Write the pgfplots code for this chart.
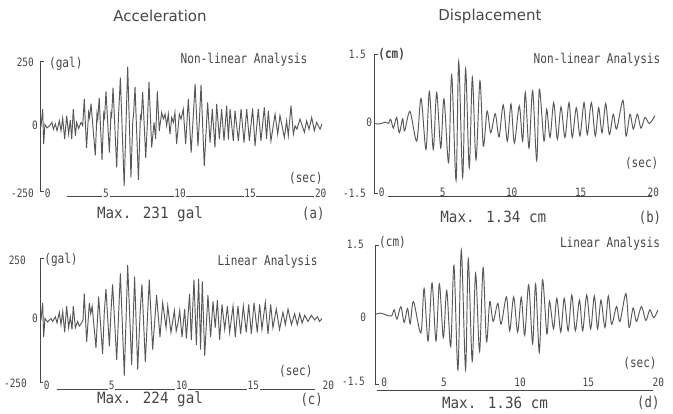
\documentclass[border=0pt]{standalone}
\usepackage{pgfplots}
\pgfplotsset{compat=1.18}
\usepackage{fontspec}
\setmainfont{DejaVu Sans}
\newfontfamily\plotfont[FakeStretch=0.82]{DejaVu Sans Mono}
\newfontfamily\maxfont[FakeStretch=0.92]{DejaVu Sans Mono}
\definecolor{ink}{RGB}{70,70,70}
\definecolor{trace}{RGB}{88,88,88}
\newcommand\tickf{\fontsize{11.5}{12}\plotfont}
\newcommand\labf{\fontsize{13.5}{14}\plotfont}
\newcommand\maxf{\fontsize{15.5}{16}\maxfont}
\newcommand\letf{\fontsize{15}{16}\plotfont}
\newcommand\titf{\fontsize{15}{16}\selectfont}
\pgfplotsset{panel/.style={scale only axis, anchor=south west, xmin=0, xmax=20,
  axis y line*=left, axis x line=none, xtick=\empty, yticklabels={},
  tick align=inside, major tick length=4pt,
  y axis line style={draw=ink, line width=0.7pt},
  ytick style={draw=ink, line width=0.7pt}, clip=false}}

\pgfplotstableread{
t v
0.00 0
0.07 0
0.19 67
0.26 -67
0.35 8
0.50 -5
0.66 2
0.85 16
0.95 -10
1.09 10
1.21 -16
1.37 22
1.49 -16
1.61 32
1.75 -48
1.89 42
2.03 -29
2.15 25
2.25 -48
2.36 67
2.51 -35
2.60 16
2.74 -7
2.91 16
3.03 3
3.14 106
3.30 -82
3.45 55
3.52 35
3.62 88
3.92 -110
4.04 50
4.10 30
4.20 110
4.40 -128
4.52 50
4.58 35
4.68 135
4.92 -100
5.03 50
5.08 40
5.18 150
5.44 -157
5.56 30
5.70 188
5.97 -228
6.22 230
6.45 -195
6.58 20
6.64 50
6.74 152
6.98 -205
7.12 40
7.18 30
7.28 133
7.50 -120
7.62 20
7.73 172
7.92 -80
8.09 16
8.20 -48
8.32 135
8.46 -16
8.63 54
8.75 29
8.87 48
8.98 3
9.10 48
9.22 -29
9.34 35
9.46 16
9.57 54
9.69 -67
9.88 48
10.00 29
10.16 67
10.33 -67
10.52 106
10.72 -100
10.86 30
11.00 164
11.20 -74
11.30 20
11.42 160
11.65 -151
11.89 93
12.06 -61
12.22 67
12.41 -80
12.53 87
12.72 -48
12.88 67
13.05 -54
13.24 80
13.36 -50
13.48 67
13.71 -55
13.83 61
14.07 -55
14.26 67
14.47 -61
14.66 67
14.85 -55
15.08 70
15.25 -74
15.48 67
15.67 -55
15.91 74
16.07 -48
16.19 61
16.38 -55
16.67 48
16.86 -29
17.02 42
17.33 -42
17.49 22
17.61 -35
17.80 80
17.97 -29
18.09 3
18.22 -10
18.44 29
18.75 -22
18.91 22
19.08 -10
19.27 35
19.46 -16
19.62 16
19.86 -10
20.00 10
}\accNL

\pgfplotstableread{
t v
0.00 0
0.07 0
0.19 69
0.26 -69
0.35 6
0.54 -8
0.78 6
0.90 -6
1.09 13
1.21 -12
1.37 31
1.49 -19
1.61 34
1.75 -50
1.89 56
2.03 -31
2.15 13
2.27 -38
2.36 56
2.51 -31
2.67 -6
2.79 -25
2.95 -12
3.05 0
3.14 106
3.31 -88
3.50 69
3.60 25
3.70 55
3.97 -112
4.16 94
4.44 -137
4.56 30
4.68 125
4.92 -106
5.04 40
5.15 144
5.44 -162
5.58 30
5.70 188
5.98 -224
6.22 221
6.50 -181
6.71 175
6.93 -200
7.10 30
7.23 144
7.47 -169
7.75 163
7.99 -119
8.27 100
8.51 -69
8.70 69
8.94 -31
9.06 56
9.29 -50
9.53 38
9.66 -45
9.79 -12
9.91 38
10.07 -69
10.26 44
10.38 -75
10.61 106
10.73 -81
10.92 163
11.09 -100
11.25 166
11.39 -119
11.51 156
11.68 -144
11.91 100
12.10 -69
12.27 75
12.43 -31
12.58 81
12.74 -81
12.91 63
13.10 -38
13.29 56
13.45 -50
13.69 56
13.85 -69
14.04 56
14.23 -56
14.42 56
14.63 -50
14.80 63
14.99 -56
15.18 69
15.41 -50
15.58 63
15.74 -38
15.98 71
16.17 -56
16.36 63
16.52 -31
16.76 44
16.99 -38
17.23 31
17.40 -19
17.59 44
17.83 -19
18.06 25
18.25 -19
18.42 25
18.59 -12
18.77 19
19.01 -6
19.24 19
19.48 0
19.67 13
19.83 -6
20.00 6
}\accL

\pgfplotstableread{
t v
0.00 0.00
0.40 -0.01
0.80 0.03
1.02 0.00
1.19 0.09
1.38 -0.10
1.61 0.13
1.80 -0.20
2.04 0.10
2.18 -0.16
2.56 0.26
3.04 -0.38
3.35 0.54
3.70 -0.56
3.94 0.69
4.22 -0.56
4.46 0.67
4.75 -0.53
4.98 0.53
5.31 -0.85
5.53 1.05
5.84 -1.23
6.03 1.34
6.31 -1.16
6.52 1.18
6.78 -0.96
7.00 1.00
7.26 -0.78
7.54 0.92
7.78 -0.49
8.05 0.27
8.31 -0.20
8.63 0.21
8.90 -0.29
9.20 0.40
9.49 -0.38
9.75 0.42
9.99 -0.42
10.34 0.38
10.58 -0.38
10.77 0.67
11.03 -0.53
11.29 0.71
11.58 -0.80
11.77 0.74
12.10 -0.38
12.29 0.31
12.53 -0.30
12.79 0.45
13.05 -0.34
13.31 0.36
13.59 -0.30
13.88 0.45
14.11 -0.30
14.40 0.34
14.66 -0.27
14.95 0.45
15.18 -0.24
15.47 0.45
15.75 -0.27
15.99 0.34
16.23 -0.20
16.49 0.43
16.75 -0.24
17.03 0.20
17.27 -0.12
17.72 0.50
17.94 -0.27
18.22 0.20
18.46 -0.12
18.74 0.20
19.00 -0.10
19.29 0.13
19.60 0.00
20.00 0.17
}\disNL

\pgfplotstableread{
t v
0.00 0.00
0.42 0.03
0.77 -0.01
1.17 -0.03
1.36 0.10
1.55 -0.10
1.83 0.17
2.06 -0.17
2.30 0.13
2.49 -0.20
2.72 0.28
3.24 -0.40
3.47 0.56
3.75 -0.57
4.03 0.68
4.31 -0.57
4.55 0.66
4.83 -0.50
5.07 0.52
5.35 -0.70
5.58 1.06
5.86 -1.19
6.10 1.39
6.40 -1.19
6.59 1.20
6.87 -1.01
7.11 0.89
7.39 -0.80
7.64 1.01
7.88 -0.59
8.11 0.28
8.35 -0.15
8.68 0.24
8.91 -0.21
9.29 0.38
9.52 -0.35
9.80 0.38
10.08 -0.38
10.34 0.37
10.58 -0.45
10.86 0.64
11.14 -0.63
11.35 0.66
11.61 -0.82
11.84 0.75
12.15 -0.42
12.33 0.29
12.62 -0.31
12.85 0.35
13.13 -0.38
13.37 0.35
13.65 -0.35
13.91 0.42
14.16 -0.35
14.45 0.31
14.68 -0.35
14.96 0.42
15.24 -0.31
15.50 0.40
15.73 -0.31
15.97 0.31
16.25 -0.28
16.49 0.40
16.72 -0.21
17.07 0.17
17.31 -0.15
17.73 0.45
17.96 -0.28
18.24 0.14
18.48 -0.15
18.83 0.17
19.14 -0.13
19.42 0.10
19.70 -0.07
20.00 0.10
}\disL

\begin{document}
\begin{tikzpicture}[x=1pt,y=1pt]
\useasboundingbox (0,0) rectangle (673,414);

% baselines under the time labels
\draw[ink, line width=0.6pt] (66.7,217.5) -- (316,217.5);
\draw[ink, line width=0.6pt] (388,217.3) -- (652,217.3);
\draw[ink, line width=0.6pt] (56.7,24.5) -- (315,24.5);
\draw[ink, line width=0.6pt] (376.7,24) -- (653.3,24);

% (a) acceleration, non-linear
\begin{axis}[panel, at={(40pt,222.3pt)}, width=282pt, height=130.2pt,
  ymin=-250, ymax=250, ytick={-250,250}]
\addplot[trace, line width=0.95pt] table[x=t,y=v] {\accNL};
\end{axis}
% (b) displacement, non-linear
\begin{axis}[panel, at={(374pt,221pt)}, width=281pt, height=139pt,
  ymin=-1.5, ymax=1.5, ytick={-1.5,1.5}]
\addplot[trace, line width=0.95pt, smooth, tension=0.5] table[x=t,y=v] {\disNL};
\end{axis}
% (c) acceleration, linear
\begin{axis}[panel, at={(40pt,32pt)}, width=282pt, height=124pt,
  ymin=-250, ymax=250, ytick={-250,250}]
\addplot[trace, line width=0.95pt] table[x=t,y=v] {\accL};
\end{axis}
% (d) displacement, linear
\begin{axis}[panel, at={(375pt,30pt)}, width=283pt, height=139pt,
  ymin=-1.5, ymax=1.5, ytick={-1.5,1.5}]
\addplot[trace, line width=0.95pt, smooth, tension=0.5] table[x=t,y=v] {\disL};
\end{axis}

\begin{scope}[every node/.style={text=ink, inner sep=0pt}]
% titles
\node[font=\titf] at (160,398.3) {Acceleration};
\node[font=\titf] at (490,397.3) {Displacement};

% panel (a)
\node[font=\tickf, anchor=east] at (34,351.3) {250};
\node[font=\labf] at (65.8,350.7) {(gal)};
\node[font=\labf] at (244,354.7) {Non-linear Analysis};
\node[font=\tickf] at (35,289) {0};
\node[font=\labf] at (305.8,235.7) {(sec)};
\node[font=\tickf, anchor=east] at (34,220.7) {-250};
\foreach \x/\l in {47.7/0, 106/5, 180/10, 250/15, 320.7/20}
  \node[font=\tickf, fill=white, inner sep=0.8pt] at (\x,220.7) {\l};
\node[font=\maxf] at (150,200) {Max. 231 gal};
\node[font=\letf] at (313.3,200) {(a)};

% panel (b)
\node[font=\tickf, anchor=east] at (366,360) {1.5};
\node[font=\labf\bfseries] at (391.7,360) {(cm)};
\node[font=\labf] at (597,354) {Non-linear Analysis};
\node[font=\tickf] at (369.3,291.3) {0};
\node[font=\labf] at (641.7,250.7) {(sec)};
\node[font=\tickf, anchor=east] at (366,220.7) {-1.5};
\foreach \x/\l in {381.7/0, 442.7/5, 511.7/10, 580.7/15, 653.3/20}
  \node[font=\tickf] at (\x,221.5) {\l};
\node[font=\maxf] at (493.3,196.7) {Max. 1.34 cm};
\node[font=\letf] at (650,196.7) {(b)};

% panel (c)
\node[font=\tickf, anchor=east] at (26,154) {250};
\node[font=\labf] at (61,154) {(gal)};
\node[font=\labf] at (267.5,152.3) {Linear Analysis};
\node[font=\tickf] at (35,95.7) {0};
\node[font=\labf] at (295.8,42.3) {(sec)};
\node[font=\tickf, anchor=east] at (27,31) {-250};
\foreach \x/\l in {46.7/0, 111.7/5, 181.7/10, 253.3/15, 328.3/20}
  \node[font=\tickf, fill=white, inner sep=0.8pt] at (\x,28.5) {\l};
\node[font=\maxf] at (150,14.5) {Max. 224 gal};
\node[font=\letf] at (311.7,14.5) {(c)};

% panel (d)
\node[font=\tickf, anchor=east] at (364,170) {1.5};
\node[font=\labf] at (392.5,171.3) {(cm)};
\node[font=\labf] at (610,170) {Linear Analysis};
\node[font=\tickf] at (363.3,96.7) {0};
\node[font=\labf] at (640,50.7) {(sec)};
\node[font=\tickf, anchor=east] at (365,32.3) {-1.5};
\foreach \x/\l in {384.3/0, 444/5, 520/10, 588.3/15, 658.3/20}
  \node[font=\tickf] at (\x,31.3) {\l};
\node[font=\maxf] at (495,11.3) {Max. 1.36 cm};
\node[font=\letf] at (648.3,11.3) {(d)};
\end{scope}
\end{tikzpicture}
\end{document}
